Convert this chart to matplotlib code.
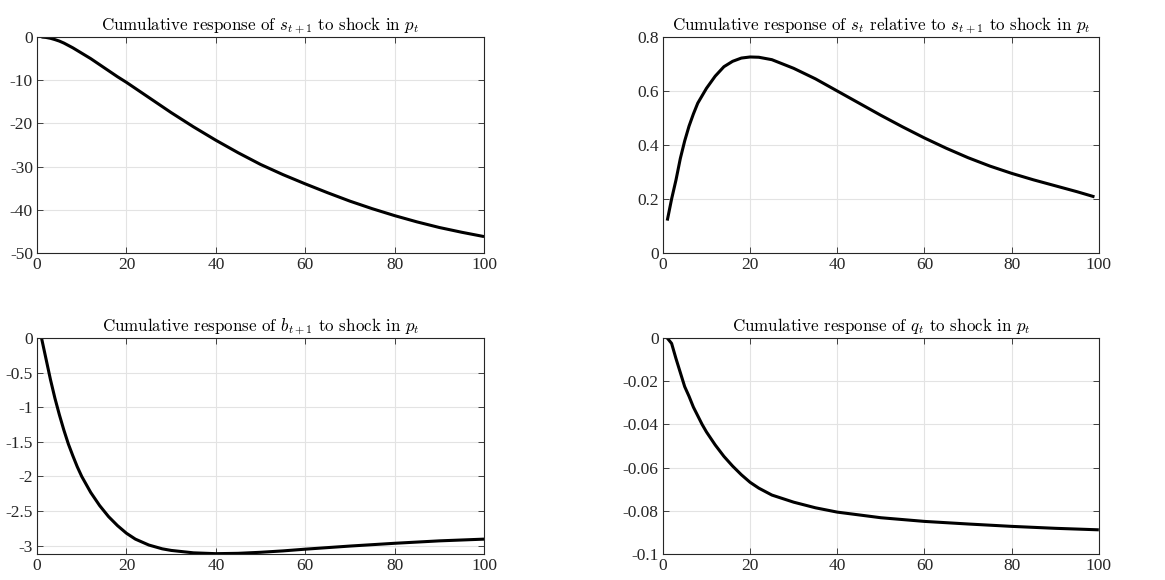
import matplotlib
matplotlib.use("Agg")
import matplotlib.pyplot as plt

# Values
s_next_x = [1, 2, 3, 4, 5, 6, 8, 10, 12, 15, 18, 20, 25, 30, 35, 40, 45, 50, 55, 60, 65, 70, 75, 80, 85, 90, 95, 100]
s_next_y = [0, -0.1, -0.3, -0.6, -0.95, -1.4, -2.5, -3.75, -5.0, -7.1, -9.2, -10.5, -14.0, -17.5, -20.8,
            -23.9, -26.8, -29.5, -31.85, -34.0, -36.05, -38.0, -39.75, -41.35, -42.8, -44.1, -45.2, -46.2]

s_rel_x = [1, 2, 3, 4, 5, 6, 7, 8, 10, 12, 14, 16, 18, 20, 22, 25, 30, 35, 40, 45, 50, 55, 60, 65, 70, 75,
           80, 85, 90, 95, 99]
s_rel_y = [0.12, 0.20, 0.27, 0.35, 0.415, 0.47, 0.515, 0.555, 0.61, 0.655, 0.69, 0.71, 0.722, 0.726, 0.725,
           0.716, 0.684, 0.645, 0.600, 0.555, 0.510, 0.467, 0.426, 0.388, 0.353, 0.322, 0.295, 0.271,
           0.249, 0.227, 0.208]

b_next_x = [1, 2, 3, 4, 5, 6, 7, 8, 9, 10, 12, 14, 16, 18, 20, 22, 25, 28, 30, 35, 40, 45, 50, 55, 60, 70, 80, 90, 100]
b_next_y = [0, -0.3, -0.6, -0.87, -1.11, -1.33, -1.53, -1.70, -1.86, -2.0, -2.23, -2.42, -2.58, -2.71,
            -2.82, -2.905, -2.99, -3.045, -3.068, -3.103, -3.115, -3.11, -3.095, -3.075, -3.05, -3.005,
            -2.965, -2.93, -2.905]

q_x = [1, 2, 3, 4, 5, 6, 7, 8, 9, 10, 12, 14, 16, 18, 20, 22, 25, 30, 35, 40, 50, 60, 70, 80, 90, 100]
q_y = [0, -0.0025, -0.0095, -0.016, -0.0225, -0.027, -0.032, -0.036, -0.040, -0.0435, -0.0495, -0.0548,
       -0.0593, -0.0633, -0.0668, -0.0695, -0.0727, -0.0760, -0.0786, -0.0806, -0.0832, -0.0849, -0.0861,
       -0.0872, -0.0881, -0.0888]

plt.rcParams['font.family'] = 'Liberation Serif'
plt.rcParams['mathtext.fontset'] = 'cm'
plt.rcParams['axes.unicode_minus'] = False

fig = plt.figure(figsize=(11.65, 5.8), dpi=100)

panels = [
    ([0.0318, 0.5638, 0.3837, 0.3724], s_next_x, s_next_y, (-50, 0), [-50, -40, -30, -20, -10, 0],
     r'Cumulative response of $s_{t+1}$ to shock in $p_t$'),
    ([0.569, 0.5638, 0.3742, 0.3724], s_rel_x, s_rel_y, (0, 0.8), [0, 0.2, 0.4, 0.6, 0.8],
     r'Cumulative response of $s_t$ relative to $s_{t+1}$ to shock in $p_t$'),
    ([0.0318, 0.0448, 0.3837, 0.3724], b_next_x, b_next_y, (-3.12, 0), [-3, -2.5, -2, -1.5, -1, -0.5, 0],
     r'Cumulative response of $b_{t+1}$ to shock in $p_t$'),
    ([0.569, 0.0448, 0.3742, 0.3724], q_x, q_y, (-0.1, 0), [-0.1, -0.08, -0.06, -0.04, -0.02, 0],
     r'Cumulative response of $q_t$ to shock in $p_t$'),
]

for pos, x, y, ylim, yticks, title in panels:
    ax = fig.add_axes(pos)
    ax.plot(x, y, color='black', linewidth=2.2, solid_capstyle='butt', solid_joinstyle='round')
    ax.set_xlim(0, 100)
    ax.set_ylim(*ylim)
    ax.set_xticks([0, 20, 40, 60, 80, 100])
    ax.set_yticks(yticks)
    ax.set_yticklabels(['%g' % v for v in yticks])
    ax.grid(True, color='#e3e3e3', linewidth=0.8)
    ax.set_axisbelow(True)
    ax.tick_params(direction='in', top=True, right=True, length=4, width=0.6,
                   colors='#262626', labelsize=12.5, pad=3)
    for sp in ax.spines.values():
        sp.set_color('#262626')
        sp.set_linewidth(0.8)
    ax.set_title(title, fontsize=12.2, fontfamily='cmr10', pad=5)

fig.savefig('out.png', dpi=100)
